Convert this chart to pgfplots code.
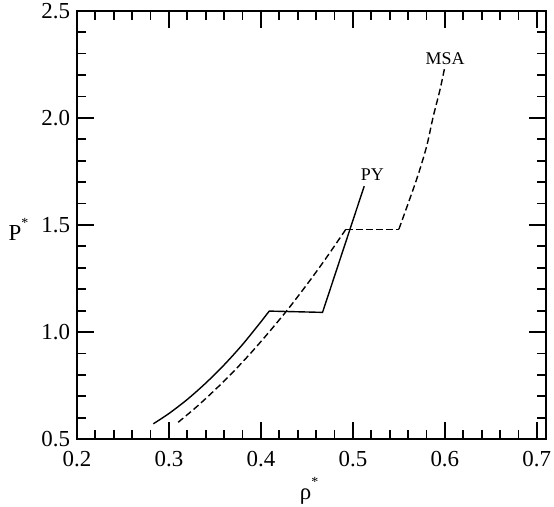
\documentclass[border=0pt]{standalone}
\usepackage{pgfplots}
\pgfplotsset{compat=1.18}
\usepackage{fontspec}
\setmainfont{Liberation Serif}
\begin{document}
\begin{tikzpicture}
\begin{axis}[
  name=ax,
  scale only axis,
  width=234.5bp, height=214.25bp,
  xmin=0.2, xmax=0.71, ymin=0.5, ymax=2.5,
  xtick={0.2,0.3,0.4,0.5,0.6,0.7},
  ytick={0.5,1.0,1.5,2.0,2.5},
  minor x tick num=4, minor y tick num=4,
  tick align=inside,
  major tick length=8.5bp, minor tick length=4.5bp,
  axis line style={line width=1bp},
  every tick/.style={line width=0.9bp, black},
  /pgf/number format/assume math mode=true,
  xticklabel style={font=\fontsize{11.5}{13}\selectfont, yshift=-2.5bp, /pgf/number format/.cd, fixed, fixed zerofill, precision=1},
  yticklabel style={font=\fontsize{11.5}{13}\selectfont, /pgf/number format/.cd, fixed, fixed zerofill, precision=1},
  every axis y label/.style={at={(axis description cs:-0.125,0.49)}, anchor=center},
  every axis x label/.style={at={(axis description cs:0.495,-0.121)}, anchor=center},
  xlabel={\fontsize{11.5}{13}\selectfont ρ\raisebox{1.2ex}{\fontsize{7}{8}\selectfont *}},
  ylabel={\fontsize{11.5}{13}\selectfont P\raisebox{1.2ex}{\fontsize{7}{8}\selectfont *}},
  clip=false,
]
% PY (solid)
\addplot[black, line width=0.7bp, smooth, tension=0.5] coordinates {
  (0.283,0.572) (0.30,0.620) (0.32,0.686) (0.34,0.762) (0.36,0.847)
  (0.38,0.942) (0.40,1.048) (0.409,1.098)
};
\addplot[black, line width=0.7bp] coordinates {
  (0.409,1.098) (0.467,1.092) (0.5123,1.681)
};
% MSA (dashed)
\addplot[black, line width=0.7bp, dash pattern=on 3.3bp off 1.7bp, smooth, tension=0.5] coordinates {
  (0.310,0.579) (0.33,0.651) (0.35,0.730) (0.37,0.815) (0.39,0.907)
  (0.41,1.006) (0.43,1.110) (0.45,1.222) (0.47,1.340) (0.4924,1.48)
};
\addplot[black, line width=0.7bp, dash pattern=on 3.3bp off 1.7bp] coordinates {
  (0.4924,1.48) (0.550,1.48)
};
\addplot[black, line width=0.7bp, dash pattern=on 3.3bp off 1.7bp, smooth, tension=0.5] coordinates {
  (0.550,1.48) (0.569,1.709) (0.580,1.864) (0.5873,2.005) (0.5946,2.129) (0.600,2.238)
};
\node[font=\fontsize{9}{10}\selectfont] at (axis cs:0.5212,1.736) {PY};
\node[font=\fontsize{9}{10}\selectfont] at (axis cs:0.6003,2.278) {MSA};
\end{axis}
\pgfresetboundingbox
\path (ax.south west) ++(-38.5bp,-33.4bp) coordinate (bl);
\path (ax.north east) ++(4bp,5.35bp) coordinate (tr);
\path[use as bounding box] (bl) rectangle (tr);
\end{tikzpicture}
\end{document}
